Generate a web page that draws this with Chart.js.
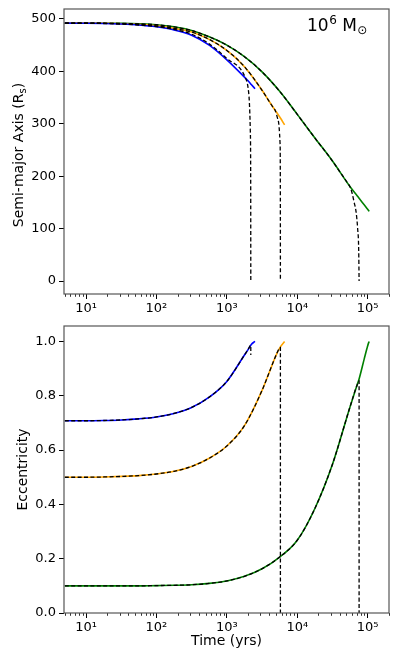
<!DOCTYPE html>
<html><head><meta charset="utf-8">
<script src="https://cdn.jsdelivr.net/npm/chart.js@4/dist/chart.umd.min.js"></script>
<style>
html,body{margin:0;padding:0;background:#fff;}
#wrap{position:relative;width:399px;height:664px;overflow:hidden;}
#c1{position:absolute;left:0;top:0;width:399px;height:320px;}
#c2{position:absolute;left:0;top:320px;width:399px;height:344px;}
</style></head><body>
<div id="wrap"><canvas id="c1" width="399" height="320"></canvas><canvas id="c2" width="399" height="344"></canvas></div>
<script>
// ---------- data ----------
// times in years
const tBlue   = [5,10,18,32,56,100,178,316,562,1000,1778,2000,2239,2512];
const aBlue   = [492,491.8,491.3,490.3,488.5,485,479,469,450,422,389,382,374.5,367];
const eBlue   = [0.708,0.708,0.709,0.711,0.715,0.722,0.735,0.757,0.795,0.853,0.95,0.97,0.99,1.0];

const tBlueDashA = [5,10,18,32,56,100,178,316,562,1000,1820,2000,2090,2150,2180,2188];
const aBlueDash  = [492,491.8,491.3,490.3,488.5,485.5,480,471,452.5,424.5,389,369,340,290,200,0];
const tBlueDashE = [5,10,18,32,56,100,178,316,562,1000,1778,2000,2188,2188];
const eBlueDash  = [0.708,0.708,0.709,0.711,0.715,0.722,0.735,0.757,0.795,0.853,0.95,0.97,0.986,0.95];

const tOrange = [5,10,18,32,56,100,178,316,562,1000,1778,3162,3981,5012,5754,6607];
const aOrange = [492,492,491.7,491,489.5,487,482,475,461,440,409,364,343,323,311,298];
const eOrange = [0.5,0.5,0.501,0.503,0.506,0.512,0.522,0.54,0.57,0.615,0.69,0.82,0.885,0.95,0.98,1.0];

const tOrangeDashA = [5,10,18,32,56,100,178,316,562,1000,1778,3162,3981,4500,4853,5370,5700,5750,5760];
const aOrangeDash  = [492,492,491.7,491,489.5,487,482,475,461,440,409,364,343,332,326,306,262,170,0];
const tOrangeDashE = [5,10,18,32,56,100,178,316,562,1000,1778,3162,3981,5012,5760,5760];
const eOrangeDash  = [0.5,0.5,0.501,0.503,0.506,0.512,0.522,0.54,0.57,0.615,0.69,0.82,0.885,0.95,0.978,0];

const tGreen = [5,10,18,32,56,100,178,316,562,1000,1778,3162,5623,10000,17783,31623,56234,70795,75509,89125,97724,102329,104954];
const aGreen = [492,492,491.8,491.5,490.7,489,485,478,466,450,428,399,362,318,273,229,180,163,158,145.5,138.5,135,133];
const eGreen = [0.1,0.1,0.1,0.1,0.1,0.101,0.102,0.104,0.109,0.118,0.135,0.163,0.206,0.268,0.385,0.548,0.76,0.84,0.862,0.935,0.975,0.993,1.0];

const tGreenDashA = [5,10,18,32,56,100,178,316,562,1000,1778,3162,5623,10000,17783,31623,39811,50119,56234,60000,64000,68400,72000,74500,75500];
const aGreenDash  = [492,492,491.8,491.5,490.7,489,485,478,466,450,428,399,362,318,273,229,209.5,190,179.5,168,151,132,100,60,0];
const tGreenDashE = [5,10,18,32,56,100,178,316,562,1000,1778,3162,5623,10000,17783,31623,56234,70795,75500,75500];
const eGreenDash  = [0.1,0.1,0.1,0.1,0.1,0.101,0.102,0.104,0.109,0.118,0.135,0.163,0.206,0.268,0.385,0.548,0.76,0.84,0.855,0];

const xMajorTicks = [10,100,1000,10000,100000];
const xTickLabels = ['10\u00B9','10\u00B2','10\u00B3','10\u2074','10\u2075'];
const xMinorTicks = [5,6,7,8,9,20,30,40,50,60,70,80,90,200,300,400,500,600,700,800,900,
  2000,3000,4000,5000,6000,7000,8000,9000,20000,30000,40000,50000,60000,70000,80000,90000,200000];
const aTicks = [0,100,200,300,400,500];
const eTicks = [0,0.2,0.4,0.6,0.8,1.0];
const eTickLabels = ['0.0','0.2','0.4','0.6','0.8','1.0'];

// ---------- helpers ----------
const FONT = '"DejaVu Sans", sans-serif';
const pts = (t, v) => t.map((x, i) => ({x: x, y: v[i]}));
const solid = (t, v, c) => ({data: pts(t, v), borderColor: c, borderWidth: 1.6, pointRadius: 0,
  cubicInterpolationMode: 'monotone', fill: false, order: 1});
const dashed = (t, v) => ({data: pts(t, v), borderColor: '#000', borderWidth: 1.3, borderDash: [4, 2.4],
  pointRadius: 0, cubicInterpolationMode: 'monotone', fill: false, order: 0});

function xScale(height, title) {
  return {
    type: 'logarithmic', min: 4.87, max: 200700,
    afterBuildTicks: s => { s.ticks = xMajorTicks.map(v => ({value: v})); },
    afterFit: s => { s.height = height; s.paddingLeft = 0; s.paddingRight = 0; s.paddingTop = 0; s.paddingBottom = 0; },
    ticks: { autoSkip: false, maxRotation: 0, minRotation: 0, padding: 2, color: '#000',
      font: {family: FONT, size: 13},
      callback: (v) => { const i = xMajorTicks.indexOf(v); return i >= 0 ? xTickLabels[i] : ''; } },
    grid: { drawOnChartArea: false, drawTicks: true, tickLength: 5, tickColor: '#000', tickWidth: 1 },
    border: { display: false },
    title: title ? { display: true, text: title, color: '#000', font: {family: FONT, size: 14}, padding: {top: 0, bottom: 14} } : {display: false}
  };
}

const framePlugin = {
  id: 'frame',
  afterDraw(chart) {
    const {ctx, chartArea: a, scales} = chart;
    ctx.save();
    ctx.strokeStyle = '#000'; ctx.lineWidth = 0.8;
    xMinorTicks.forEach(v => {
      const px = Math.round(scales.x.getPixelForValue(v)) + 0.5;
      if (px < a.left - 0.5 || px > a.right + 0.5) return;
      ctx.beginPath(); ctx.moveTo(px, a.bottom); ctx.lineTo(px, a.bottom + 2.8); ctx.stroke();
    });
    ctx.strokeStyle = '#555'; ctx.lineWidth = 1.2;
    ctx.strokeRect(a.left, a.top, a.right - a.left, a.bottom - a.top);
    ctx.restore();
  }
};

const topTextPlugin = {
  id: 'topText',
  afterDraw(chart) {
    const ctx = chart.ctx;
    ctx.save();
    ctx.fillStyle = '#000'; ctx.textBaseline = 'alphabetic'; ctx.textAlign = 'left';
    // y-axis title with subscript
    ctx.translate(23, 155);
    ctx.rotate(-Math.PI / 2);
    ctx.font = '14px ' + FONT;
    const m1 = 'Semi-major Axis (R', m3 = ')';
    const w1 = ctx.measureText(m1).width, w3 = ctx.measureText(m3).width;
    ctx.font = '10px ' + FONT;
    const w2 = ctx.measureText('s').width;
    let x = -(w1 + w2 + w3) / 2;
    ctx.font = '14px ' + FONT; ctx.fillText(m1, x, 0); x += w1;
    ctx.font = '10px ' + FONT; ctx.fillText('s', x, 3); x += w2;
    ctx.font = '14px ' + FONT; ctx.fillText(m3, x, 0);
    ctx.setTransform(1, 0, 0, 1, 0, 0);
    // annotation 10^6 M_sun
    let ax = 307; const by = 31;
    ctx.font = '17px ' + FONT; ctx.fillText('10', ax, by); ax += ctx.measureText('10').width + 0.5;
    ctx.font = '12px ' + FONT; ctx.fillText('6', ax, by - 7); ax += ctx.measureText('6').width;
    ctx.font = '17px ' + FONT; ctx.fillText(' M', ax, by); ax += ctx.measureText(' M').width + 0.5;
    ctx.font = '12px ' + FONT; ctx.fillText('\u2299', ax, by + 3);
    ctx.restore();
  }
};

Chart.defaults.font.family = FONT;

new Chart(document.getElementById('c1'), {
  type: 'line',
  data: { datasets: [
    solid(tBlue, aBlue, '#0000ff'), solid(tOrange, aOrange, '#ffa500'), solid(tGreen, aGreen, '#008000'),
    dashed(tBlueDashA, aBlueDash), dashed(tOrangeDashA, aOrangeDash), dashed(tGreenDashA, aGreenDash)
  ]},
  options: {
    responsive: false, animation: false, devicePixelRatio: 1,
    layout: { padding: {left: 0, right: 10, top: 9, bottom: 0} },
    plugins: { legend: {display: false}, tooltip: {enabled: false} },
    scales: {
      x: xScale(26, null),
      y: {
        min: -24.6, max: 519,
        afterBuildTicks: s => { s.ticks = aTicks.map(v => ({value: v})); },
        afterFit: s => { s.width = 64; s.paddingTop = 0; s.paddingBottom = 0; s.paddingLeft = 0; s.paddingRight = 0; },
        ticks: { padding: 3, color: '#000', font: {family: FONT, size: 13}, callback: v => String(v) },
        grid: { drawOnChartArea: false, tickLength: 5, tickColor: '#000' },
        border: { display: false }
      }
    }
  },
  plugins: [framePlugin, topTextPlugin]
});

new Chart(document.getElementById('c2'), {
  type: 'line',
  data: { datasets: [
    solid(tBlue, eBlue, '#0000ff'), solid(tOrange, eOrange, '#ffa500'), solid(tGreen, eGreen, '#008000'),
    dashed(tBlueDashE, eBlueDash), dashed(tOrangeDashE, eOrangeDash), dashed(tGreenDashE, eGreenDash)
  ]},
  options: {
    responsive: false, animation: false, devicePixelRatio: 1,
    layout: { padding: {left: 0, right: 10, top: 6, bottom: 0} },
    plugins: { legend: {display: false}, tooltip: {enabled: false} },
    scales: {
      x: xScale(51, 'Time (yrs)'),
      y: {
        min: 0, max: 1.057,
        afterBuildTicks: s => { s.ticks = eTicks.map(v => ({value: v})); },
        afterFit: s => { s.width = 64; s.paddingTop = 0; s.paddingBottom = 0; s.paddingLeft = 0; s.paddingRight = 0; },
        ticks: { padding: 3, color: '#000', font: {family: FONT, size: 13},
          callback: (v) => { const i = eTicks.indexOf(v); return i >= 0 ? eTickLabels[i] : ''; } },
        grid: { drawOnChartArea: false, tickLength: 5, tickColor: '#000' },
        border: { display: false },
        title: { display: true, text: 'Eccentricity', color: '#000', font: {family: FONT, size: 14}, padding: {top: 15, bottom: 0} }
      }
    }
  },
  plugins: [framePlugin]
});
</script>
</body></html>
